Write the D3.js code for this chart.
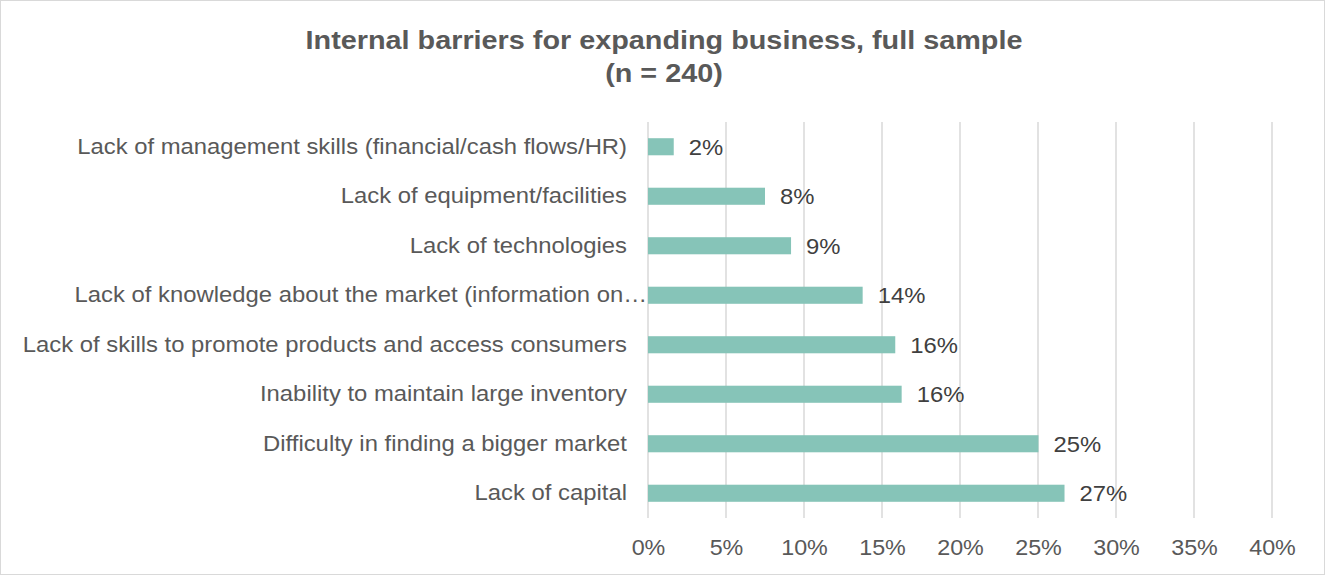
<!DOCTYPE html>
<html>
<head>
<meta charset="utf-8">
<script src="https://cdn.jsdelivr.net/npm/d3@7"></script>
<style>
  html, body { margin: 0; padding: 0; background: #fff; }
  svg { display: block; font-family: "Liberation Sans", Arial, sans-serif; }
</style>
</head>
<body>
<svg id="chart" width="1325" height="575"></svg>
<script>
// Internal barriers for expanding business (share of respondents), top to bottom
const categories = [
  "Lack of management skills (financial/cash flows/HR)",
  "Lack of equipment/facilities",
  "Lack of technologies",
  "Lack of knowledge about the market (information on…",
  "Lack of skills to promote products and access consumers",
  "Inability to maintain large inventory",
  "Difficulty in finding a bigger market",
  "Lack of capital"
];
const values = [0.0165, 0.075, 0.0917, 0.1376, 0.1585, 0.1626, 0.2503, 0.267];
const xTicks = [0, 0.05, 0.10, 0.15, 0.20, 0.25, 0.30, 0.35, 0.40];
const titleLines = ["Internal barriers for expanding business, full sample", "(n = 240)"];

const W = 1325, H = 575;
const margin = { top: 122, right: 53, bottom: 57, left: 648 };
const textScale = 1.06;   // slightly wide lettering used throughout
const svg = d3.select("#chart");

// outer frame
svg.append("rect")
  .attr("x", 0.5).attr("y", 0.5)
  .attr("width", W - 1).attr("height", H - 1)
  .attr("fill", "#fff").attr("stroke", "#d9d9d9");

const x = d3.scaleLinear().domain([0, 0.40]).range([margin.left, W - margin.right]);
const y = d3.scaleBand().domain(categories)
  .range([margin.top, H - margin.bottom])
  .paddingInner(0.655).paddingOuter(0.3275);

// title, two centred lines
svg.append("g")
  .selectAll("text")
  .data(titleLines)
  .join("text")
  .attr("text-anchor", "middle")
  .attr("fill", "#595959")
  .attr("font-size", 25.5)
  .attr("font-weight", "bold")
  .attr("transform", (d, i) => `translate(664,${48.5 + i * 33}) scale(1.13,1)`)
  .text(d => d);

// vertical gridlines
svg.append("g")
  .selectAll("line")
  .data(xTicks)
  .join("line")
  .attr("x1", d => x(d)).attr("x2", d => x(d))
  .attr("y1", margin.top).attr("y2", H - margin.bottom)
  .attr("stroke", "#d9d9d9").attr("stroke-width", 1.5);

// x axis tick labels
const xAxis = d3.axisBottom(x).tickValues(xTicks).tickFormat(d3.format(".0%")).tickSize(0);
const gx = svg.append("g")
  .attr("transform", `translate(0,${H - margin.bottom})`)
  .call(xAxis);
gx.select(".domain").remove();
gx.selectAll("text")
  .attr("y", 0).attr("dy", null)
  .attr("transform", `translate(0,37) scale(${textScale},1)`)
  .attr("font-size", 22)
  .attr("fill", "#595959")
  .attr("font-family", "Liberation Sans, Arial, sans-serif");

// category axis
const yAxis = d3.axisLeft(y).tickSize(0);
const gy = svg.append("g")
  .attr("transform", `translate(${margin.left},0)`)
  .call(yAxis);
gy.select(".domain").remove();
gy.selectAll("text")
  .attr("x", 0)
  .attr("transform", d => `translate(${d.endsWith("…") ? -1 : -21},0) scale(${textScale},1)`)
  .attr("font-size", 22.5)
  .attr("fill", "#595959")
  .attr("font-family", "Liberation Sans, Arial, sans-serif");

// bars
svg.append("g")
  .selectAll("rect")
  .data(categories)
  .join("rect")
  .attr("x", x(0))
  .attr("y", d => y(d))
  .attr("width", (d, i) => x(values[i]) - x(0))
  .attr("height", y.bandwidth())
  .attr("fill", "#86c4b8");

// value labels
svg.append("g")
  .selectAll("text")
  .data(categories)
  .join("text")
  .attr("transform", (d, i) => `translate(${x(values[i]) + 15},${y(d) + y.bandwidth() / 2}) scale(${textScale},1)`)
  .attr("dy", "0.36em")
  .attr("font-size", 22.5)
  .attr("fill", "#404040")
  .text((d, i) => d3.format(".0%")(values[i]));
</script>
</body>
</html>
